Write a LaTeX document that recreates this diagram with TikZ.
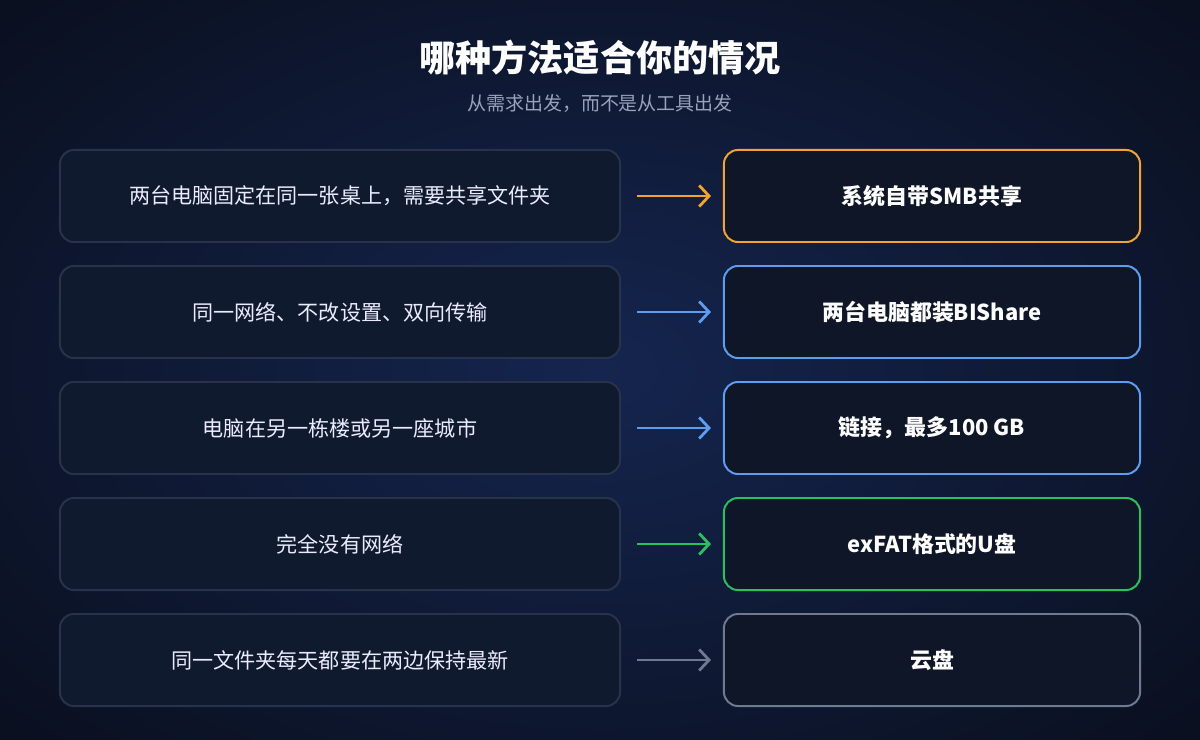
\documentclass[tikz,border=0pt]{standalone}
\usepackage{fontspec}
\setmainfont{Noto Sans CJK SC}
\usetikzlibrary{calc,arrows.meta}
\definecolor{bgin}{HTML}{15254F}
\definecolor{bgout}{HTML}{0A1020}
\definecolor{qfill}{HTML}{101A2E}
\definecolor{qline}{HTML}{28324A}
\definecolor{afill}{HTML}{0E1628}
\definecolor{cOrange}{HTML}{F2A52B}
\definecolor{cBlue}{HTML}{5C9DF0}
\definecolor{cGreen}{HTML}{27C25E}
\definecolor{cGray}{HTML}{6E7A90}
\definecolor{subgray}{HTML}{98A2B8}
\tikzset{
  qbox/.style={draw=qline,line width=1.4pt,fill=qfill,rounded corners=0.35cm,
    minimum width=14cm,minimum height=2.3cm,text=white!92!blue,font=\fontsize{15}{18}\selectfont},
  abox/.style={draw=#1,line width=1.4pt,fill=afill,rounded corners=0.35cm,
    minimum width=10.4cm,minimum height=2.3cm,text=white,font=\fontsize{15.6}{18}\selectfont\bfseries},
  link/.style={draw=#1,line width=2pt,-{Straight Barb[length=7pt,width=15pt,line width=2pt]},
    shorten <=0.4cm,shorten >=0.3cm}
}
\begin{document}
\begin{tikzpicture}[x=0.025cm,y=-0.025cm]
    \useasboundingbox (0,0) rectangle (1200,740);
    \shade[inner color=bgin,outer color=bgout] (-200,-150) rectangle (1400,890);

    % title
    \node[text=white,font=\fontsize{25.7}{30}\selectfont\bfseries] (title) at (600,58) {哪种方法适合你的情况};
    \node[text=subgray,font=\fontsize{13.5}{16}\selectfont] (sub) at (600,104) {从需求出发，而不是从工具出发};

    % rows
    \foreach \i/\q/\a/\c in {%
      1/两台电脑固定在同一张桌上，需要共享文件夹/系统自带SMB共享/cOrange,
      2/同一网络、不改设置、双向传输/两台电脑都装BIShare/cBlue,
      3/电脑在另一栋楼或另一座城市/链接，最多100 GB/cBlue,
      4/完全没有网络/exFAT格式的U盘/cGreen,
      5/同一文件夹每天都要在两边保持最新/云盘/cGray}{
      \node[qbox] (q\i) at (340,{196+116*(\i-1)}) {\q};
      \node[abox=\c] (a\i) at (932,{196+116*(\i-1)}) {\a};
      \draw[link=\c] (q\i) -- (a\i);
    }
\end{tikzpicture}
\end{document}
